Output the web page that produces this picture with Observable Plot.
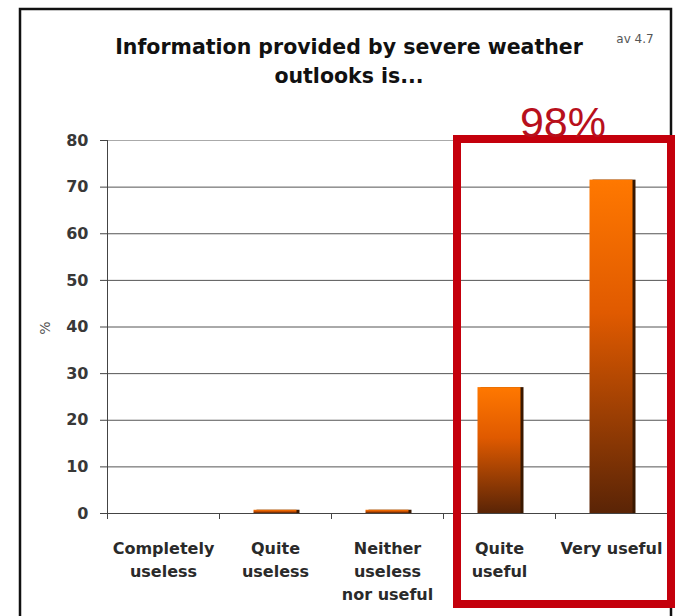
<!DOCTYPE html>
<html>
<head>
<meta charset="utf-8">
<script src="https://cdn.jsdelivr.net/npm/d3@7"></script>
<script src="https://cdn.jsdelivr.net/npm/@observablehq/plot@0.6"></script>
<style>
  html, body { margin: 0; padding: 0; background: #fff; }
  #chart { width: 675px; height: 616px; overflow: hidden; }
</style>
</head>
<body>
<div id="chart"></div>
<script>
// ---- data ----
const categories = ["Completely useless", "Quite useless", "Neither useless nor useful", "Quite useful", "Very useful"];
const categoryLabels = ["Completely\nuseless", "Quite\nuseless", "Neither\nuseless\nnor useful", "Quite\nuseful", "Very useful"];
const values = [0, 0.7, 0.7, 27, 71.5];
const yTicks = [0, 10, 20, 30, 40, 50, 60, 70, 80];
const titleLines = ["Information provided by severe weather", "outlooks is..."];
const averageNote = "av 4.7";
const highlightLabel = "98%";
const yLabel = "%";

const data = categories.map((c, i) => ({category: c, value: values[i], label: categoryLabels[i]}));
const font = "DejaVu Sans, Verdana, sans-serif";

const step = 112; // band step in px (560 / 5)

const svg = Plot.plot({
  width: 675,
  height: 616,
  marginLeft: 107,
  marginRight: 8,
  marginTop: 140,
  marginBottom: 103,
  style: {fontFamily: font, background: "#fff", overflow: "visible"},
  x: {domain: categories, padding: 0, axis: null},
  y: {domain: [0, 80], label: null},
  marks: [
    Plot.ruleY(yTicks.filter(d => d < 80), {stroke: "#555", strokeWidth: 1}),
    Plot.ruleY(yTicks.filter(d => d === 80), {stroke: "#aaa", strokeWidth: 1}),
    // shadow
    Plot.barY(data, {x: "category", y: "value", fill: "#3a1800", insetLeft: 37.5, insetRight: 31.5}),
    Plot.barY(data, {x: "category", y: "value", fill: "url(#barGrad)", insetLeft: 34.5, insetRight: 34.5}),
    // y axis line
    Plot.ruleX(categories.slice(0, 1), {x: d => d, dx: -step / 2, y1: 0, y2: 80, stroke: "#444"}),
    // x axis line
    Plot.ruleY([0], {stroke: "#444"}),
    // x boundary ticks
    Plot.ruleX(categories, {x: d => d, dx: -step / 2, y1: 0, y2: 0, insetBottom: -6, stroke: "#444"}),
    Plot.ruleX(categories.slice(-1), {x: d => d, dx: step / 2, y1: 0, y2: 0, insetBottom: -6, stroke: "#444"}),
    Plot.axisY(yTicks, {tickSize: 7, tickPadding: 12, fontSize: 16, fontWeight: "bold", fill: "#383838", stroke: "#444", label: null}),
    Plot.text(data, {x: "category", y: 0, text: "label", lineAnchor: "top", dy: 24, lineHeight: 1.44,
      fontSize: 16, fontWeight: "bold", fill: "#2a2a2a"})
  ]
});

const s = d3.select(svg);
s.insert("defs", ":first-child").html(`
  <linearGradient id="barGrad" x1="0" y1="0" x2="0" y2="1">
    <stop offset="0" stop-color="#ff7800"/>
    <stop offset="0.4" stop-color="#e05a00"/>
    <stop offset="1" stop-color="#5a2406"/>
  </linearGradient>`);

// outer frame
s.append("rect").attr("x", 20).attr("y", 9).attr("width", 651).attr("height", 640)
  .attr("fill", "none").attr("stroke", "#111").attr("stroke-width", 2.5);

// title
s.append("text").attr("x", 349).attr("y", 54).attr("text-anchor", "middle")
  .attr("font-family", font).attr("font-weight", "bold").attr("font-size", 20.5).attr("fill", "#111")
  .text(titleLines[0]);
s.append("text").attr("x", 349).attr("y", 83).attr("text-anchor", "middle")
  .attr("font-family", font).attr("font-weight", "bold").attr("font-size", 20.5).attr("fill", "#111")
  .text(titleLines[1]);

// average note
s.append("text").attr("x", 635).attr("y", 43).attr("text-anchor", "middle")
  .attr("font-family", font).attr("font-size", 12).attr("fill", "#555")
  .text(averageNote);

// y label
s.append("text").attr("transform", "translate(46,328) rotate(-90)").attr("text-anchor", "middle")
  .attr("dominant-baseline", "middle")
  .attr("font-family", font).attr("font-size", 14).attr("fill", "#555")
  .text(yLabel);

// highlight box
s.append("rect").attr("x", 457).attr("y", 139).attr("width", 214).attr("height", 465)
  .attr("fill", "none").attr("stroke", "#c4000c").attr("stroke-width", 8);
s.append("text").attr("x", 563).attr("y", 137).attr("text-anchor", "middle")
  .attr("font-family", "Liberation Sans, Arial, sans-serif").attr("font-size", 43).attr("fill", "#b8101c")
  .text(highlightLabel);

document.getElementById("chart").appendChild(svg);
</script>
</body>
</html>
